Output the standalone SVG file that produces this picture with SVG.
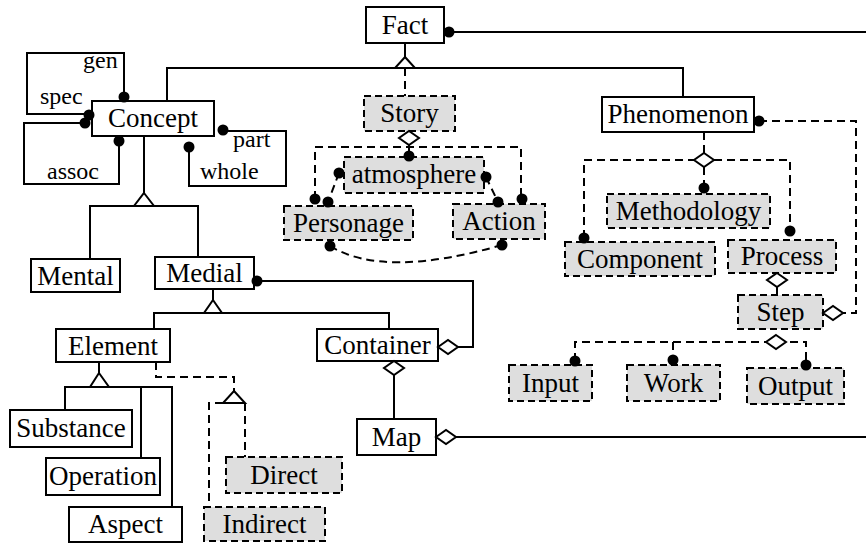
<svg xmlns="http://www.w3.org/2000/svg" width="866" height="543" viewBox="0 0 866 543">
<style>
.n{fill:#fff;stroke:#000;stroke-width:2}
.g{fill:#dedede;stroke:#000;stroke-width:2;stroke-dasharray:7 4}
.t{font-family:'Liberation Serif','DejaVu Serif','Times New Roman',serif;font-size:27px;text-anchor:middle;fill:#000}
.l{font-family:'Liberation Serif','DejaVu Serif','Times New Roman',serif;font-size:24px;fill:#000}
.c{fill:none;stroke:#000;stroke-width:2}
.d{fill:none;stroke:#000;stroke-width:2;stroke-dasharray:8 5}
.h{fill:#fff;stroke:#000;stroke-width:2}
.k{fill:#000}
</style>
<rect width="866" height="543" fill="#fff"/>
<g id="Fact"><rect class="n" x="366" y="7" width="78" height="36"/><text class="t" x="405" y="34" font-family="Liberation Serif, serif">Fact</text></g>
<g id="Concept"><rect class="n" x="92" y="101" width="122" height="35"/><text class="t" x="153" y="127">Concept</text></g>
<g id="Story"><rect class="g" x="364" y="96" width="91" height="35"/><text class="t" x="409.5" y="122">Story</text></g>
<g id="Phenomenon"><rect class="n" x="602" y="97" width="152" height="35"/><text class="t" x="678" y="123">Phenomenon</text></g>
<g id="atmosphere"><rect class="g" x="344" y="157" width="140" height="36"/><text class="t" x="414" y="183">atmosphere</text></g>
<g id="Personage"><rect class="g" x="284" y="206" width="129" height="34"/><text class="t" x="348.5" y="232">Personage</text></g>
<g id="Action"><rect class="g" x="453" y="204" width="92" height="35"/><text class="t" x="499" y="230">Action</text></g>
<g id="Methodology"><rect class="g" x="607" y="194" width="163" height="34"/><text class="t" x="688.5" y="220">Methodology</text></g>
<g id="Component"><rect class="g" x="565" y="242" width="150" height="34"/><text class="t" x="640" y="268">Component</text></g>
<g id="Process"><rect class="g" x="728" y="240" width="108" height="33"/><text class="t" x="782" y="265">Process</text></g>
<g id="Step"><rect class="g" x="738" y="295" width="85" height="34"/><text class="t" x="780.5" y="321">Step</text></g>
<g id="Input"><rect class="g" x="509" y="365" width="83" height="36"/><text class="t" x="550.5" y="392">Input</text></g>
<g id="Work"><rect class="g" x="627" y="365" width="93" height="36"/><text class="t" x="673.5" y="392">Work</text></g>
<g id="Output"><rect class="g" x="747" y="368" width="97" height="36"/><text class="t" x="795.5" y="395">Output</text></g>
<g id="Mental"><rect class="n" x="31" y="259" width="89" height="33"/><text class="t" x="75.5" y="285">Mental</text></g>
<g id="Medial"><rect class="n" x="155" y="257" width="99" height="32"/><text class="t" x="204.5" y="282">Medial</text></g>
<g id="Element"><rect class="n" x="56" y="329" width="114" height="33"/><text class="t" x="113" y="355">Element</text></g>
<g id="Container"><rect class="n" x="317" y="329" width="121" height="32"/><text class="t" x="377.5" y="354">Container</text></g>
<g id="Map"><rect class="n" x="357" y="419" width="79" height="36"/><text class="t" x="396.5" y="446">Map</text></g>
<g id="Substance"><rect class="n" x="10" y="410" width="122" height="37"/><text class="t" x="71" y="437">Substance</text></g>
<g id="Operation"><rect class="n" x="46" y="458" width="114" height="37"/><text class="t" x="103" y="485">Operation</text></g>
<g id="Aspect"><rect class="n" x="69" y="507" width="113" height="35"/><text class="t" x="125.5" y="533">Aspect</text></g>
<g id="Direct"><rect class="g" x="226" y="457" width="116" height="36"/><text class="t" x="284" y="484">Direct</text></g>
<g id="Indirect"><rect class="g" x="204" y="507" width="121" height="34"/><text class="t" x="264.5" y="533">Indirect</text></g>
<g id="connectors">
<path class="c" d="M449,32 H866"/>
<path class="c" d="M405,43 V57"/>
<path class="c" d="M167,101 V68 H683 V97"/>
<path class="d" d="M405,68 V96"/>
<path class="d" d="M409,145 V156"/>
<path class="d" d="M315,199 V147 H521 V199"/>
<path class="d" d="M339,173 L328,202"/>
<path class="d" d="M486,177 L498,202"/>
<path class="d" d="M330,246 Q384,279 502,245"/>
<path class="d" d="M704,132 V153"/>
<path class="d" d="M704,167 V188"/>
<path class="d" d="M584,238 V160 H790 V231"/>
<path class="d" d="M759,121 H856 V313 H843"/>
<path class="d" d="M777,287 V295"/>
<path class="d" d="M575,361 V342 H806 V365"/>
<path class="d" d="M673,342 V360"/>
<path class="c" d="M124,97 V53 H27 V114 H89"/>
<path class="c" d="M85,123 H24 V184 H119 V141"/>
<path class="c" d="M223,131 H286 V186 H189 V147"/>
<path class="c" d="M144,136 V193"/>
<path class="c" d="M90,259 V206 H198 V257"/>
<path class="c" d="M213,289 V300"/>
<path class="c" d="M154,329 V313 H389 V329"/>
<path class="c" d="M257,281 H473 V347 H458"/>
<path class="c" d="M394,375 V419"/>
<path class="c" d="M456,437 H866"/>
<path class="c" d="M99,362 V373"/>
<path class="c" d="M65,410 V387 H172 V507"/>
<path class="c" d="M141,387 V458"/>
<path class="d" d="M156,362 V377 H234 V391"/>
<path class="d" d="M223,403 H209 V507"/>
<path class="d" d="M245,403 V457"/>
<polygon class="h" points="405,57 415,68 395,68"/>
<polygon class="h" points="144,193 154,206 134,206"/>
<polygon class="h" points="213,300 222,313 204,313"/>
<polygon class="h" points="99,373 109,387 90,387"/>
<polygon class="h" points="234,391 245,403 223,403"/>
<polygon class="h" points="409,131 419,138 409,145 399,138"/>
<polygon class="h" points="704,153 714,160 704,167 694,160"/>
<polygon class="h" points="777,273 787,280 777,287 767,280"/>
<polygon class="h" points="823,313 833,306 843,313 833,320"/>
<polygon class="h" points="776,335 786,342 776,349 766,342"/>
<polygon class="h" points="438,347 448,340 458,347 448,354"/>
<polygon class="h" points="394,361 404,368 394,375 384,368"/>
<polygon class="h" points="436,437 446,430 456,437 446,444"/>
<circle class="k" cx="449" cy="32" r="5.5"/>
<circle class="k" cx="124" cy="97" r="5.5"/>
<circle class="k" cx="89" cy="115" r="5.5"/>
<circle class="k" cx="85" cy="123" r="5.5"/>
<circle class="k" cx="119" cy="141" r="5.5"/>
<circle class="k" cx="223" cy="130" r="5.5"/>
<circle class="k" cx="189" cy="147" r="5.5"/>
<circle class="k" cx="409" cy="156" r="5.5"/>
<circle class="k" cx="339" cy="173" r="5.5"/>
<circle class="k" cx="486" cy="177" r="5.5"/>
<circle class="k" cx="315" cy="199" r="5.5"/>
<circle class="k" cx="328" cy="202" r="5.5"/>
<circle class="k" cx="498" cy="202" r="5.5"/>
<circle class="k" cx="522" cy="199" r="5.5"/>
<circle class="k" cx="330" cy="246" r="5.5"/>
<circle class="k" cx="502" cy="245" r="5.5"/>
<circle class="k" cx="759" cy="121" r="5.5"/>
<circle class="k" cx="704" cy="188" r="5.5"/>
<circle class="k" cx="584" cy="238" r="5.5"/>
<circle class="k" cx="790" cy="231" r="5.5"/>
<circle class="k" cx="575" cy="361" r="5.5"/>
<circle class="k" cx="673" cy="360" r="5.5"/>
<circle class="k" cx="806" cy="365" r="5.5"/>
<circle class="k" cx="257" cy="281" r="5.5"/>
</g>
<g id="labels">
<text class="l" x="83" y="68">gen</text>
<text class="l" x="40" y="104">spec</text>
<text class="l" x="47" y="179">assoc</text>
<text class="l" x="233" y="147">part</text>
<text class="l" x="200" y="179">whole</text>
</g>
</svg>
